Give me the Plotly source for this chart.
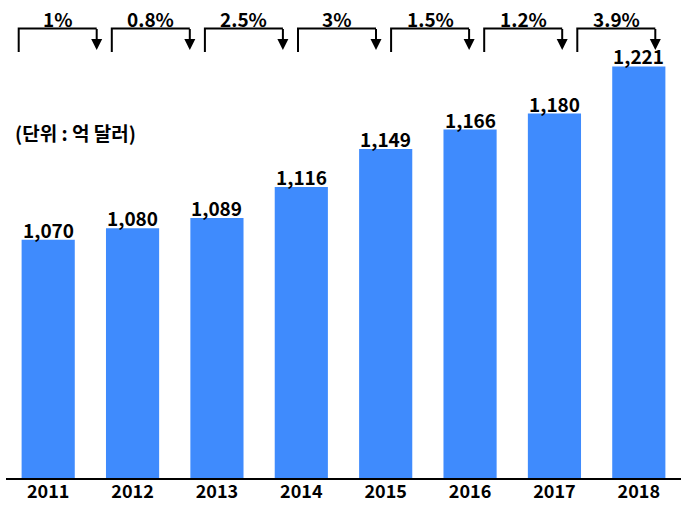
import plotly.graph_objects as go

years = ["2011", "2012", "2013", "2014", "2015", "2016", "2017", "2018"]
values = [1070, 1080, 1089, 1116, 1149, 1166, 1180, 1221]
growth = [1, 0.8, 2.5, 3, 1.5, 1.2, 3.9]
unit_label = "(단위 : 억 달러)"

FONT = "Noto Sans CJK KR, Noto Sans, sans-serif"
BAR_COLOR = "#3F8BFD"

W, H = 681, 506
ML, MR, MT, MB = 6, 0, 0, 28
PW, PH = W - ML - MR, H - MT - MB


def px_x(p):
    return (p - ML) / PW


def px_y(p):
    return (H - MB - p) / PH


fig = go.Figure()
fig.add_trace(go.Bar(x=years, y=values, marker_color=BAR_COLOR,
                     marker_line_width=0, hoverinfo="skip"))

annotations = []
shapes = []

# value labels (x given as category index so year strings are not read as numbers)
for i, v in enumerate(values):
    annotations.append(dict(x=i, y=v, xref="x", yref="y", text=f"{v:,}",
                            showarrow=False, yanchor="bottom", yshift=-5,
                            font=dict(family=FONT, size=19, color="black", weight="bold")))

# growth brackets
b_left0, b_step, b_width = 18.7, 93.1, 78.0
line_y, foot_y, tip_y, text_y = 28.5, 52, 50, 18
for i, g in enumerate(growth):
    l = b_left0 + i * b_step
    r = l + b_width
    shapes.append(dict(type="path", xref="paper", yref="paper",
                       path=f"M {px_x(l)},{px_y(foot_y)} L {px_x(l)},{px_y(line_y)} L {px_x(r)},{px_y(line_y)}",
                       line=dict(color="black", width=2)))
    annotations.append(dict(x=px_x(r), y=px_y(tip_y), xref="paper", yref="paper",
                            ax=0, ay=-(tip_y - line_y) - 1, text="", showarrow=True,
                            arrowhead=2, arrowsize=1.1, arrowwidth=2, arrowcolor="black"))
    annotations.append(dict(x=px_x((l + r) / 2), y=px_y(text_y), xref="paper", yref="paper",
                            text=f"{g:g}%", showarrow=False, xanchor="center", yanchor="middle",
                            font=dict(family=FONT, size=19, color="black", weight="bold")))

annotations.append(dict(x=px_x(13), y=px_y(132), xref="paper", yref="paper",
                        text=unit_label, showarrow=False, xanchor="left", yanchor="middle",
                        font=dict(family=FONT, size=19, color="black", weight="bold")))

y0 = 862.5
scale = 1.148
fig.update_layout(
    width=W, height=H,
    margin=dict(l=ML, r=MR, t=MT, b=MB, pad=0, autoexpand=False),
    paper_bgcolor="white", plot_bgcolor="white",
    bargap=0.37, showlegend=False,
    annotations=annotations, shapes=shapes,
    xaxis=dict(type="category", range=[-0.5, len(years) - 0.5], showline=True,
               linecolor="black", linewidth=1.5, ticks="", ticklabelstandoff=-3,
               showgrid=False, fixedrange=True,
               tickfont=dict(family=FONT, size=18, color="black", weight="bold")),
    yaxis=dict(range=[y0, y0 + PH / scale], visible=False, showgrid=False, fixedrange=True),
)

fig.write_html("out.html", config={"displayModeBar": False})
